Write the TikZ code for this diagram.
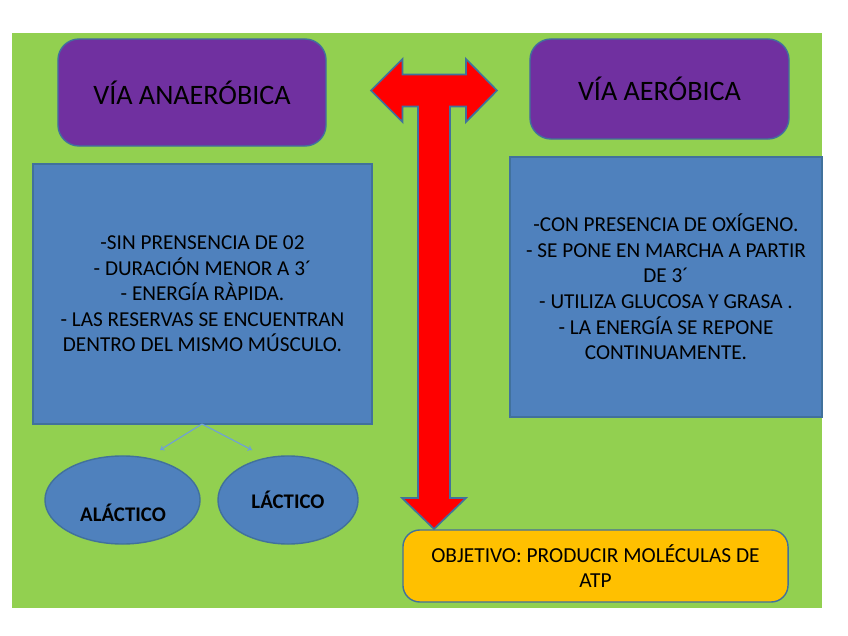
\documentclass[tikz,border=0pt]{standalone}
\usepackage{fontspec}
\setmainfont{Carlito}
\usepackage{tikz}
\usetikzlibrary{arrows.meta,positioning,shapes.geometric}
\definecolor{bggreen}{HTML}{92D050}
\definecolor{viapurple}{HTML}{7030A0}
\definecolor{boxblue}{HTML}{4F81BD}
\definecolor{edgeblue}{HTML}{41719C}
\definecolor{linkblue}{HTML}{6F9FD8}
\definecolor{goalyellow}{HTML}{FFC000}
\tikzset{
  viabox/.style={draw=edgeblue, line width=1pt, fill=viapurple, rounded corners=15pt, font=\fontsize{20}{24}\selectfont},
  infobox/.style={draw=edgeblue, line width=1pt, fill=boxblue, align=center, font=\fontsize{15.1}{18.2}\selectfont},
  typeoval/.style={draw=edgeblue, line width=1pt, fill=boxblue, ellipse, minimum height=2.2cm},
  typelabel/.style={font=\fontsize{14.8}{18}\selectfont\bfseries},
  link/.style={linkblue, line width=0.8pt, -{To[length=3pt,width=4pt]}}
}
\begin{document}
\begin{tikzpicture}[x=0.025cm, y=-0.025cm]
  \useasboundingbox (0,0) rectangle (848,636);
  % Background
  \fill[bggreen] (12,33) rectangle (822,608);

  % Headers
  \node[viabox, minimum width=6.7cm, minimum height=2.675cm] (anaer) at (192,92.5) {VÍA ANAERÓBICA};
  \node[viabox, minimum width=6.475cm, minimum height=2.5cm] (aer) at (659.5,89) {VÍA AERÓBICA};

  % Descriptions
  \node[infobox, minimum width=8.475cm, minimum height=6.5cm] (anaerinfo) at (202.5,294) {-SIN PRENSENCIA DE 02\\- DURACIÓN MENOR A 3´\\- ENERGÍA RÀPIDA.\\- LAS RESERVAS SE ENCUENTRAN\\DENTRO DEL MISMO MÚSCULO.};
  \node[infobox, minimum width=7.8cm, minimum height=6.5cm] (aerinfo) at (666,287) {-CON PRESENCIA DE OXÍGENO.\\- SE PONE EN MARCHA A PARTIR\\DE 3´\\- UTILIZA GLUCOSA Y GRASA .\\- LA ENERGÍA SE REPONE\\CONTINUAMENTE.};

  % Goal
  \node[draw=edgeblue, line width=1pt, fill=goalyellow, rounded corners=12pt, minimum width=9.625cm, minimum height=1.8cm, align=center, font=\fontsize{15.2}{18}\selectfont] (goal) at (595.5,566) {OBJETIVO: PRODUCIR MOLÉCULAS DE\\ATP};

  % Types
  \node[typeoval, minimum width=3.875cm] (alac) at (122.5,500) {};
  \node[typelabel] (alactxt) at (123,513) {ALÁCTICO};
  \node[typeoval, minimum width=3.5cm] (lac) at (288,500) {};
  \node[typelabel] (lactxt) at (288,500) {LÁCTICO};

  % Links
  \coordinate (split) at (202,424);
  \coordinate (toalac) at (160,450);
  \coordinate (tolac) at (252,450);
  \draw[link] (split) -- (toalac);
  \draw[link] (split) -- (tolac);

  % Big arrow
  \draw[edgeblue, line width=1.2pt, fill=red, line join=miter]
    (371,90.5) -- (402.5,59) -- (402.5,74.5) -- (466,74.5) -- (466,59) -- (497,90.5)
    -- (466,122) -- (466,106.5) -- (450,106.5) -- (450,498) -- (466,498) -- (434,529)
    -- (402,498) -- (418,498) -- (418,106.5) -- (402.5,106.5) -- (402.5,122) -- cycle;
\end{tikzpicture}
\end{document}
